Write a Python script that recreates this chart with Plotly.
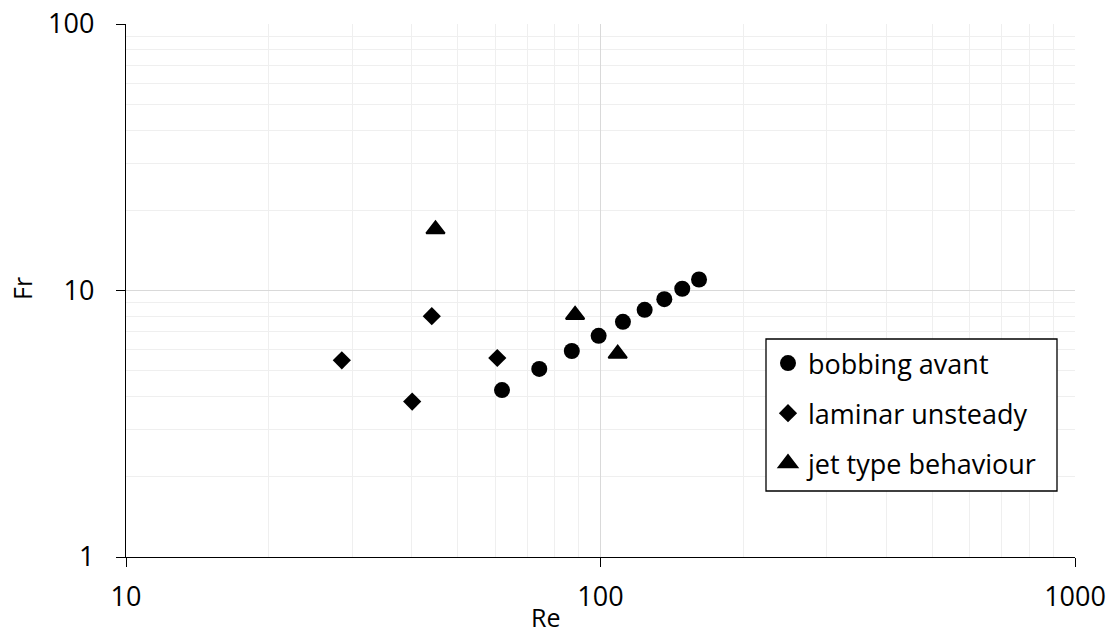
import plotly.graph_objects as go

# Regime map: Reynolds number vs Froude number
re_bobbing = [62, 74.3, 87, 99.1, 111.5, 123.9, 136.3, 148.7, 161.3]
fr_bobbing = [4.23, 5.08, 5.93, 6.76, 7.63, 8.46, 9.28, 10.15, 11.0]

re_laminar = [28.5, 40.1, 44.1, 60.6]
fr_laminar = [5.47, 3.83, 8.01, 5.58]

re_jet = [44.9, 88.4, 108.7]
fr_jet = [16.97, 8.10, 5.79]

x_ticks = [10, 100, 1000]
y_ticks = [1, 10, 100]
x_minor = [v * m for m in (10, 100) for v in range(2, 10)]
y_minor = [v * m for m in (1, 10) for v in range(2, 10)]

FONT = "Open Sans"
series = [
    ("bobbing avant", re_bobbing, fr_bobbing, "circle", 16, 0),
    ("laminar unsteady", re_laminar, fr_laminar, "diamond", 14, 0),
    ("jet type behaviour", re_jet, fr_jet, "triangle-up", 16, 2),
]

# plot area in pixels (for placing titles and the legend frame)
L, R, T, B = 126, 1075, 24, 557
PW, PH = R - L, B - T


def px(x):
    return (x - L) / PW


def py(y):
    return (B - y) / PH


fig = go.Figure()
for i, (name, xs, ys, sym, size, lw) in enumerate(series):
    fig.add_trace(go.Scatter(
        x=xs, y=ys, mode="markers", name=name, legendgroup=f"g{i}",
        marker=dict(symbol=sym, size=size, color="black",
                    line=dict(width=lw, color="black")),
    ))

axis_common = dict(
    type="log", automargin=False,
    showline=True, linecolor="black", linewidth=1.3,
    ticks="outside", ticklen=9, tickcolor="black", tickwidth=1.3,
    showgrid=True, gridcolor="#d9d9d9", gridwidth=1.3,
    zeroline=False,
    tickfont=dict(family=FONT, size=27, color="black"),
)

fig.update_xaxes(
    **axis_common, range=[1, 3], tickvals=x_ticks, ticktext=[str(v) for v in x_ticks],
    minor=dict(tickvals=x_minor, showgrid=True, gridcolor="#efefef", gridwidth=1.3, ticks=""),
    ticklabelstandoff=6,
)
fig.update_yaxes(
    **axis_common, range=[0, 2], tickvals=y_ticks, ticktext=[str(v) for v in y_ticks],
    minor=dict(tickvals=y_minor, showgrid=True, gridcolor="#efefef", gridwidth=1.3, ticks=""),
    ticklabelstandoff=16,
)

# Axis titles
fig.add_annotation(text="Re", xref="paper", yref="paper", x=px(545), y=py(617),
                   xanchor="center", yanchor="middle", showarrow=False,
                   font=dict(family=FONT, size=25, color="black"))
fig.add_annotation(text="Fr", xref="paper", yref="paper", x=px(22), y=py(289),
                   xanchor="center", yanchor="middle", textangle=-90, showarrow=False,
                   font=dict(family=FONT, size=25, color="black"))

# Legend frame
fig.add_shape(type="rect", xref="paper", yref="paper",
              x0=px(766), x1=px(1057), y0=py(491), y1=py(339),
              fillcolor="white", line=dict(color="black", width=1.3), layer="above")

fig.update_layout(
    width=1112, height=633,
    margin=dict(l=L, r=1112 - R, t=T, b=633 - B),
    plot_bgcolor="white", paper_bgcolor="white",
    font=dict(family=FONT, color="black"),
    showlegend=True,
    legend=dict(
        x=px(768), y=py(339), xanchor="left", yanchor="top",
        bgcolor="rgba(0,0,0,0)", borderwidth=0,
        font=dict(family=FONT, size=27, color="black"),
        itemsizing="trace", traceorder="grouped", tracegroupgap=12,
    ),
)

fig.write_html("out.html")
